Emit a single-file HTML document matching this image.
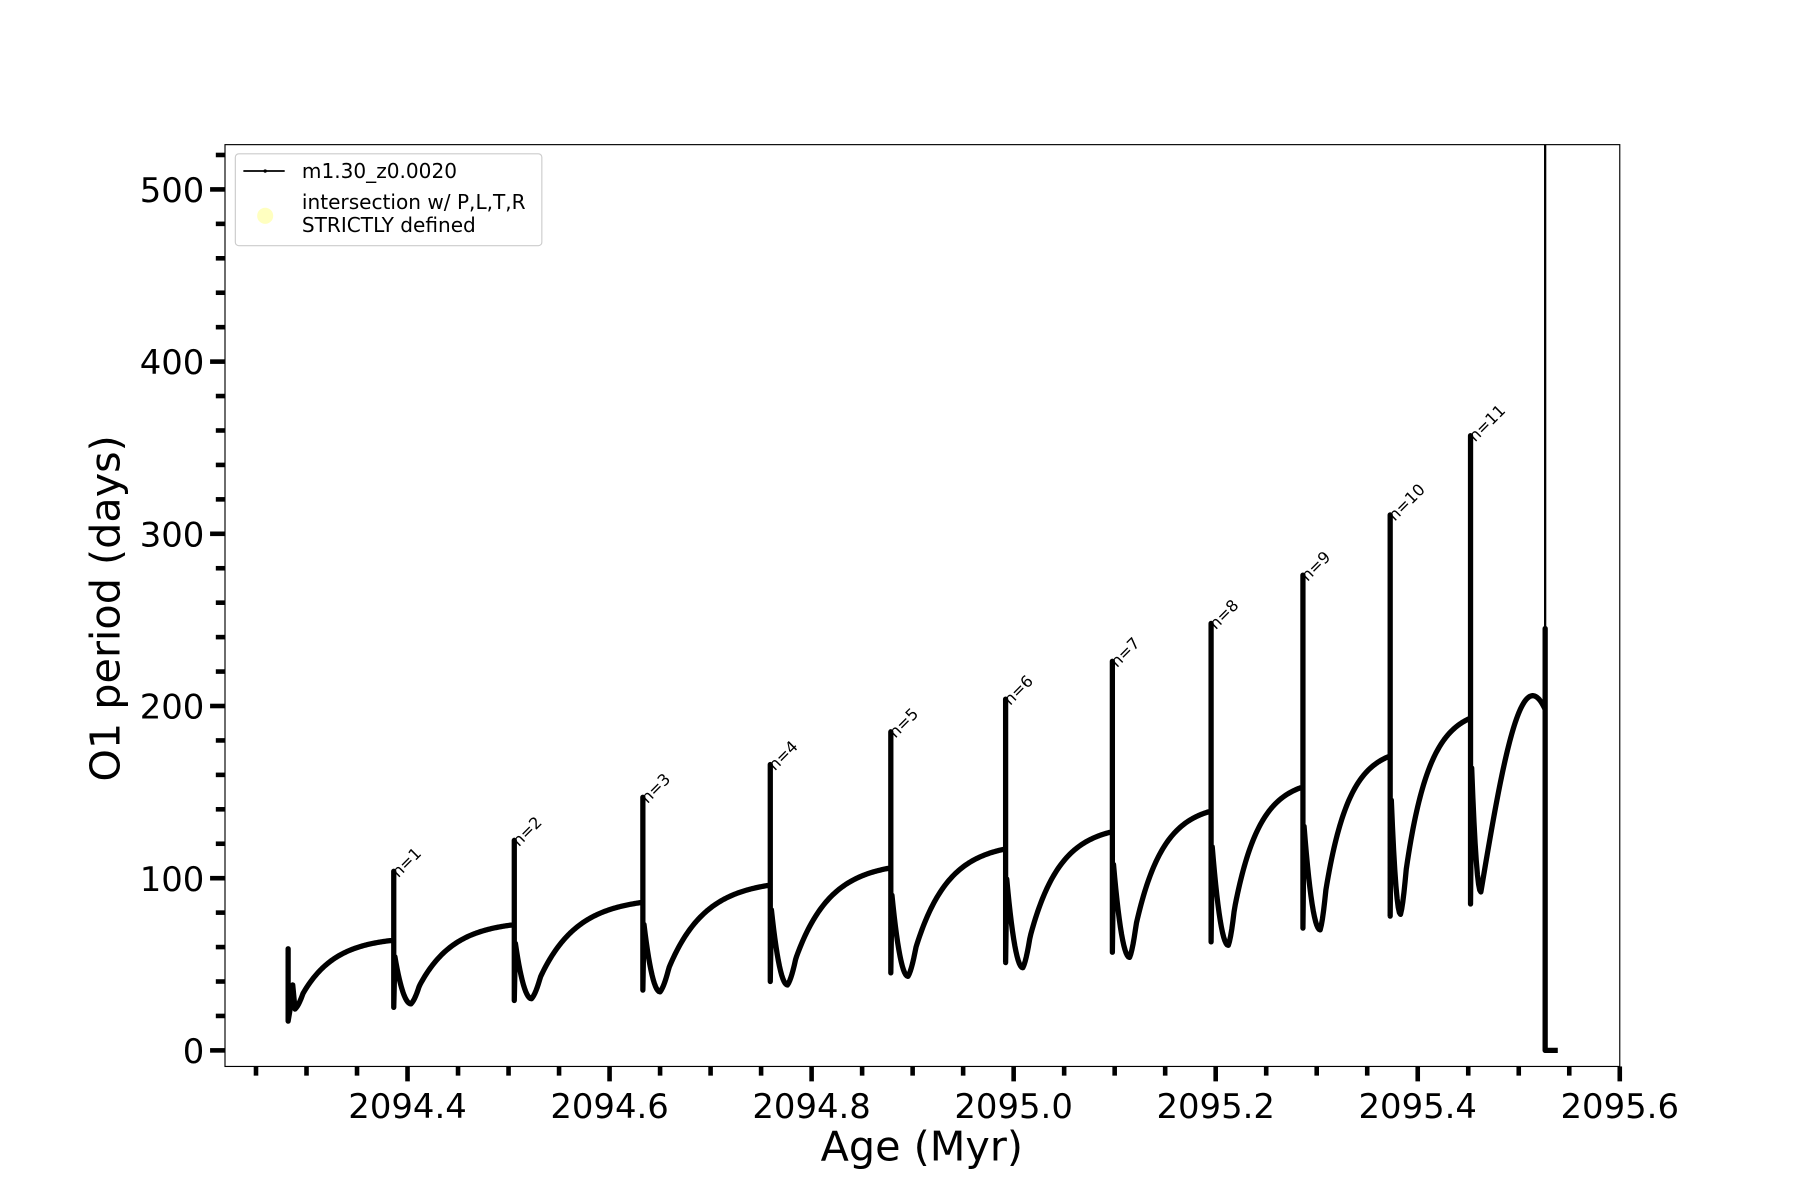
<!DOCTYPE html>
<html><head><meta charset="utf-8"><style>
html,body{margin:0;padding:0;background:#fff;}
svg{display:block;}
text{font-family:"DejaVu Sans","Liberation Sans",sans-serif;fill:#000;}
</style></head><body>
<svg id="s" width="1800" height="1200" viewBox="0 0 1568 1045.33" xmlns="http://www.w3.org/2000/svg">
<rect x="196" y="126" width="1215" height="803" fill="none" stroke="#000" stroke-width="1"/>
<g id="ticks" stroke="#000" stroke-width="4"></g>
<g id="labels" font-size="29.5"></g>
<path id="curve" fill="none" stroke="#000" stroke-width="4.6" stroke-linejoin="round"/>
<line x1="1346" y1="126" x2="1346" y2="550" stroke="#000" stroke-width="2"/>
<g id="ann" font-size="14"></g>
<text x="803" y="1011" font-size="36" text-anchor="middle">Age (Myr)</text>
<text transform="translate(104,530) rotate(-90)" font-size="36" text-anchor="middle">O1 period (days)</text>
<rect x="205" y="134" width="267" height="80" rx="3" fill="#fff" stroke="#ccc" stroke-width="1"/>
<line x1="212" y1="149" x2="248" y2="149" stroke="#000" stroke-width="1.5"/>
<circle cx="231" cy="149" r="1.5" fill="#000"/>
<text x="263" y="155" font-size="17.5">m1.30_z0.0020</text>
<circle cx="231" cy="188" r="7" fill="#ffffc0"/>
<text x="263" y="182" font-size="17.5">intersection w/ P,L,T,R</text>
<text x="263" y="202" font-size="17.5">STRICTLY defined</text>
</svg>
<script>
const NS="http://www.w3.org/2000/svg";
const X=v=>355+(v-2094.4)*880, Y=v=>915-v*1.5;
const tk=document.getElementById('ticks'),lb=document.getElementById('labels');
function ln(x1,y1,x2,y2){const l=document.createElementNS(NS,'line');l.setAttribute('x1',x1);l.setAttribute('y1',y1);l.setAttribute('x2',x2);l.setAttribute('y2',y2);tk.appendChild(l);}
function tx(x,y,s,a){const t=document.createElementNS(NS,'text');t.setAttribute('x',x);t.setAttribute('y',y);t.setAttribute('text-anchor',a);t.textContent=s;lb.appendChild(t);}
for(let i=0;i<28;i++){const v=2094.25+i*0.05;const x=X(v);if(x<196||x>1412)continue;const maj=Math.abs(((v-2094.4)/0.2)-Math.round((v-2094.4)/0.2))<1e-6;ln(x,929,x,maj?942:937);if(maj)tx(x,974,v.toFixed(1),'middle');}
for(let v=0;v<=520;v+=20){const y=Y(v);const maj=v%100==0;ln(196,y,maj?183:188,y);if(maj)tx(178,y+11,String(v),'end');}
const P=[343,448,560,671,776,876,969,1055,1135,1211,1281];
const peak=[104,122,147,166,185,204,226,248,276,311,357];
const pre=[64,73,86,96,106,117,127,139,153,171,193];
const tr=[27,30,34,38,43,48,54,61,70,79,92];
const low=[25,29,35,40,45,51,57,63,71,78,85];
let d=`M251,${Y(41)} L251,${Y(59)} L251,${Y(17)} L253,${Y(25)} L255,${Y(38)} L257,${Y(24)}`;
function rise(x0,v0,x1,v1){for(let x=x0;x<=x1;x+=1){const u=(x-x0)/(x1-x0);const g=(1-Math.exp(-3*u))/(1-Math.exp(-3));const s=u<0.08?g*(u/0.08)*0.6+g*0.4:g;d+=` L${x},${Y(v0+(v1-v0)*Math.min(1,s))}`;}}
rise(257,24,343,64);
for(let i=0;i<11;i++){const xp=P[i];d+=` L${xp},${Y(pre[i])} L${xp},${Y(peak[i])} L${xp},${Y(low[i])} L${xp+1},${Y(pre[i]*0.85)}`;
const dx=i<9?14:8;const xt=xp+1+dx;
for(let x=xp+1;x<=xt;x++){const u=(x-xp-1)/dx;d+=` L${x},${Y(tr[i]+(pre[i]*0.85-tr[i])*(1-u)*(1-u))}`;}
if(i<10){rise(xt,tr[i],P[i+1],pre[i+1]);}
else{for(let x=xt;x<=1346;x++){const u=(x-xt)/(1346-xt);const v=tr[i]+(206-tr[i])*Math.sin(Math.min(u,1)*Math.PI*0.62)/Math.sin(Math.PI*0.5);d+=` L${x},${Y(Math.min(206,v))}`;}}}
d+=` L1346,${Y(245)} L1346,${Y(0)} L1357,${Y(0)}`;
document.getElementById('curve').setAttribute('d',d);
const an=document.getElementById('ann');
for(let i=0;i<11;i++){const t=document.createElementNS(NS,'text');const x=P[i]+4,y=Y(peak[i])+6;t.setAttribute('transform',`translate(${x},${y}) rotate(-45)`);t.textContent='n='+(i+1);an.appendChild(t);}
</script>
</body></html>
